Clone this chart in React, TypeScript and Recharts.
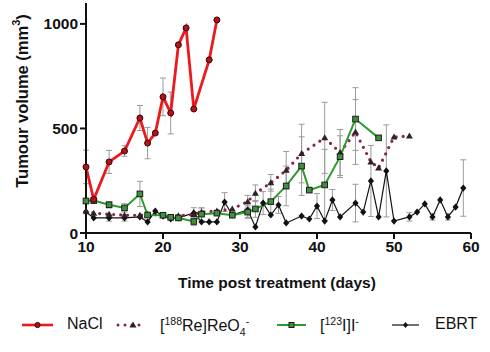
import React from "react";
import { ErrorBar, Line, LineChart, XAxis, YAxis } from "recharts";

// values (days post treatment, mm³, ± error)
const naclDays = [10, 11, 13, 15, 17, 18, 19, 20, 21, 22, 23, 24, 26, 27];
const naclVol = [316, 160, 340, 392, 550, 430, 478, 651, 574, 900, 981, 593, 828, 1019];
const naclErr = [80, 0, 55, 25, 60, 75, 0, 90, 100, 0, 0, 0, 0, 0];

const reDays = [10, 11, 13, 15, 17, 18, 20, 22, 24, 25, 27, 29, 31, 32, 34, 36, 38, 41, 43, 45, 47, 48, 50, 52];
const reVol = [105, 95, 90, 85, 85, 90, 85, 82, 88, 100, 105, 115, 150, 190, 240, 300, 380, 455, 385, 483, 340, 311, 459, 464];
const reErr = [0, 0, 0, 0, 0, 0, 0, 0, 0, 20, 0, 0, 30, 40, 40, 90, 140, 170, 110, 155, 0, 0, 0, 0];

const iodDays = [10, 11, 13, 15, 17, 18, 20, 21, 22, 24, 25, 27, 29, 31, 32, 34, 36, 38, 39, 41, 43, 45, 48];
const iodVol = [153, 155, 135, 120, 187, 86, 85, 75, 72, 55, 90, 95, 85, 100, 115, 150, 225, 320, 205, 230, 365, 545, 455];
const iodErr = [0, 0, 15, 20, 60, 0, 0, 0, 0, 20, 30, 0, 0, 30, 40, 60, 95, 140, 0, 170, 100, 150, 0];

const ebrtDays = [10, 11, 13, 15, 17, 18, 19, 20, 21, 22, 24, 25, 26, 27, 28, 29, 31, 32, 33, 34, 35, 36, 38, 39, 40, 41, 42, 43, 45, 46, 47, 48, 49, 50, 52, 53, 54, 55, 56, 57, 58, 59];
const ebrtVol = [100, 72, 72, 72, 77, 53, 105, 81, 67, 72, 96, 53, 53, 53, 148, 86, 110, 29, 143, 86, 134, 48, 81, 67, 129, 57, 158, 77, 143, 100, 249, 77, 297, 57, 77, 100, 139, 77, 158, 77, 124, 215];
const ebrtErr = [0, 0, 15, 15, 0, 0, 0, 0, 0, 0, 25, 0, 0, 0, 45, 0, 35, 0, 55, 0, 40, 0, 0, 0, 60, 0, 50, 0, 90, 0, 170, 0, 220, 0, 20, 0, 0, 15, 0, 15, 0, 135];

const xTicks = [10, 20, 30, 40, 50, 60];
const yTicks = [0, 500, 1000];

const toRows = (days: number[], vol: number[], err: number[]) =>
  days.map((day, i) => ({ day, vol: vol[i], err: err[i] }));

const naclData = toRows(naclDays, naclVol, naclErr);
const reData = toRows(reDays, reVol, reErr);
const iodData = toRows(iodDays, iodVol, iodErr);
const ebrtData = toRows(ebrtDays, ebrtVol, ebrtErr);

const FONT = "'Liberation Sans', Arial, sans-serif";
const RED = "#ea1a1f";
const MAROON = "#8a2050";
const GREEN = "#2e9a2e";
const ERR = "#9a9a9a";

const CircleDot = (p: any) => (
  <circle key={p.index} cx={p.cx} cy={p.cy} r={3} fill="#b3121a" stroke="#3a0505" strokeWidth={1} />
);
const TriDot = (p: any) => (
  <polygon
    key={p.index}
    points={`${p.cx},${p.cy - 3.5} ${p.cx - 3.5},${p.cy + 2.5} ${p.cx + 3.5},${p.cy + 2.5}`}
    fill="#2b2325"
  />
);
const SquareDot = (p: any) => (
  <rect key={p.index} x={p.cx - 2.8} y={p.cy - 2.8} width={5.6} height={5.6} fill="#3f8f3f" stroke="#1c1c1c" strokeWidth={1} />
);
const DiamondDot = (p: any) => (
  <polygon
    key={p.index}
    points={`${p.cx},${p.cy - 3.6} ${p.cx + 3.1},${p.cy} ${p.cx},${p.cy + 3.6} ${p.cx - 3.1},${p.cy}`}
    fill="#111"
  />
);

const YLabel = () => (
  <text
    x={22}
    y={101}
    transform="rotate(-90 22 101)"
    textAnchor="middle"
    dominantBaseline="central"
    fontFamily={FONT}
    fontWeight="bold"
    fontSize={16.5}
    fill="#111"
  >
    Tumour volume (mm<tspan baselineShift="super" fontSize={11}>3</tspan>)
  </text>
);

const XLabel = () => (
  <text x={277} y={288} textAnchor="middle" fontFamily={FONT} fontWeight="bold" fontSize={15.5} fill="#111">
    Time post treatment (days)
  </text>
);

const tickStyle = { fontFamily: FONT, fontWeight: "bold" as const, fontSize: 15.5, fill: "#111" };

export default function App() {
  const legendText: React.CSSProperties = {
    position: "absolute",
    top: 315,
    fontFamily: FONT,
    fontSize: 16,
    color: "#111",
    whiteSpace: "nowrap",
  };
  const small: React.CSSProperties = { fontSize: 10.5 };
  return (
    <div style={{ position: "absolute", left: 0, top: 0, width: 490, height: 352, background: "#fff" }}>
      <LineChart width={490} height={300} margin={{ top: 3, right: 19, left: 26, bottom: 17 }}>
        <XAxis
          type="number"
          dataKey="day"
          domain={[10, 60]}
          ticks={xTicks}
          tick={tickStyle}
          stroke="#111"
          strokeWidth={2}
          tickSize={6}
          height={50}
          label={<XLabel />}
        />
        <YAxis
          type="number"
          domain={[0, 1100]}
          ticks={yTicks}
          tick={tickStyle}
          stroke="#111"
          strokeWidth={2}
          tickSize={6}
          width={60}
          label={<YLabel />}
        />
        <Line
          data={ebrtData}
          dataKey="vol"
          stroke="#111"
          strokeWidth={1.2}
          dot={DiamondDot}
          activeDot={false}
          isAnimationActive={false}
        >
          <ErrorBar dataKey="err" direction="y" width={3} stroke={ERR} strokeWidth={1} />
        </Line>
        <Line
          data={reData}
          dataKey="vol"
          stroke={MAROON}
          strokeWidth={3.2}
          strokeDasharray="0 7"
          strokeLinecap="round"
          dot={TriDot}
          activeDot={false}
          isAnimationActive={false}
        >
          <ErrorBar dataKey="err" direction="y" width={3} stroke={ERR} strokeWidth={1} />
        </Line>
        <Line
          data={iodData}
          dataKey="vol"
          stroke={GREEN}
          strokeWidth={2}
          dot={SquareDot}
          activeDot={false}
          isAnimationActive={false}
        >
          <ErrorBar dataKey="err" direction="y" width={3} stroke={ERR} strokeWidth={1} />
        </Line>
        <Line
          data={naclData}
          dataKey="vol"
          stroke={RED}
          strokeWidth={2.8}
          dot={CircleDot}
          activeDot={false}
          isAnimationActive={false}
        >
          <ErrorBar dataKey="err" direction="y" width={3} stroke={ERR} strokeWidth={1} />
        </Line>
      </LineChart>

      <svg style={{ position: "absolute", left: 0, top: 310 }} width={490} height={30}>
        <line x1={22} x2={53} y1={15} y2={15} stroke={RED} strokeWidth={2.6} />
        <circle cx={37.5} cy={15} r={2.6} fill="#b3121a" stroke="#3a0505" strokeWidth={1} />
        <line x1={118} x2={146} y1={15} y2={15} stroke={MAROON} strokeWidth={3} strokeDasharray="0 7" strokeLinecap="round" />
        <polygon points="133,11.5 129.5,17.5 136.5,17.5" fill="#2b2325" />
        <line x1={277} x2={306} y1={15} y2={15} stroke={GREEN} strokeWidth={2} />
        <rect x={289} y={12.5} width={5} height={5} fill="#3f8f3f" stroke="#1c1c1c" strokeWidth={1} />
        <line x1={392} x2={419} y1={15} y2={15} stroke="#111" strokeWidth={1.2} />
        <polygon points="405.5,12 408,15 405.5,18 403,15" fill="#111" />
      </svg>
      <div style={{ ...legendText, left: 67 }}>NaCl</div>
      <div style={{ ...legendText, left: 160 }}>
        [<sup style={small}>188</sup>Re]ReO<sub style={small}>4</sub>
        <sup style={small}>-</sup>
      </div>
      <div style={{ ...legendText, left: 320 }}>
        [<sup style={small}>123</sup>I]I<sup style={small}>-</sup>
      </div>
      <div style={{ ...legendText, left: 435 }}>EBRT</div>
    </div>
  );
}
